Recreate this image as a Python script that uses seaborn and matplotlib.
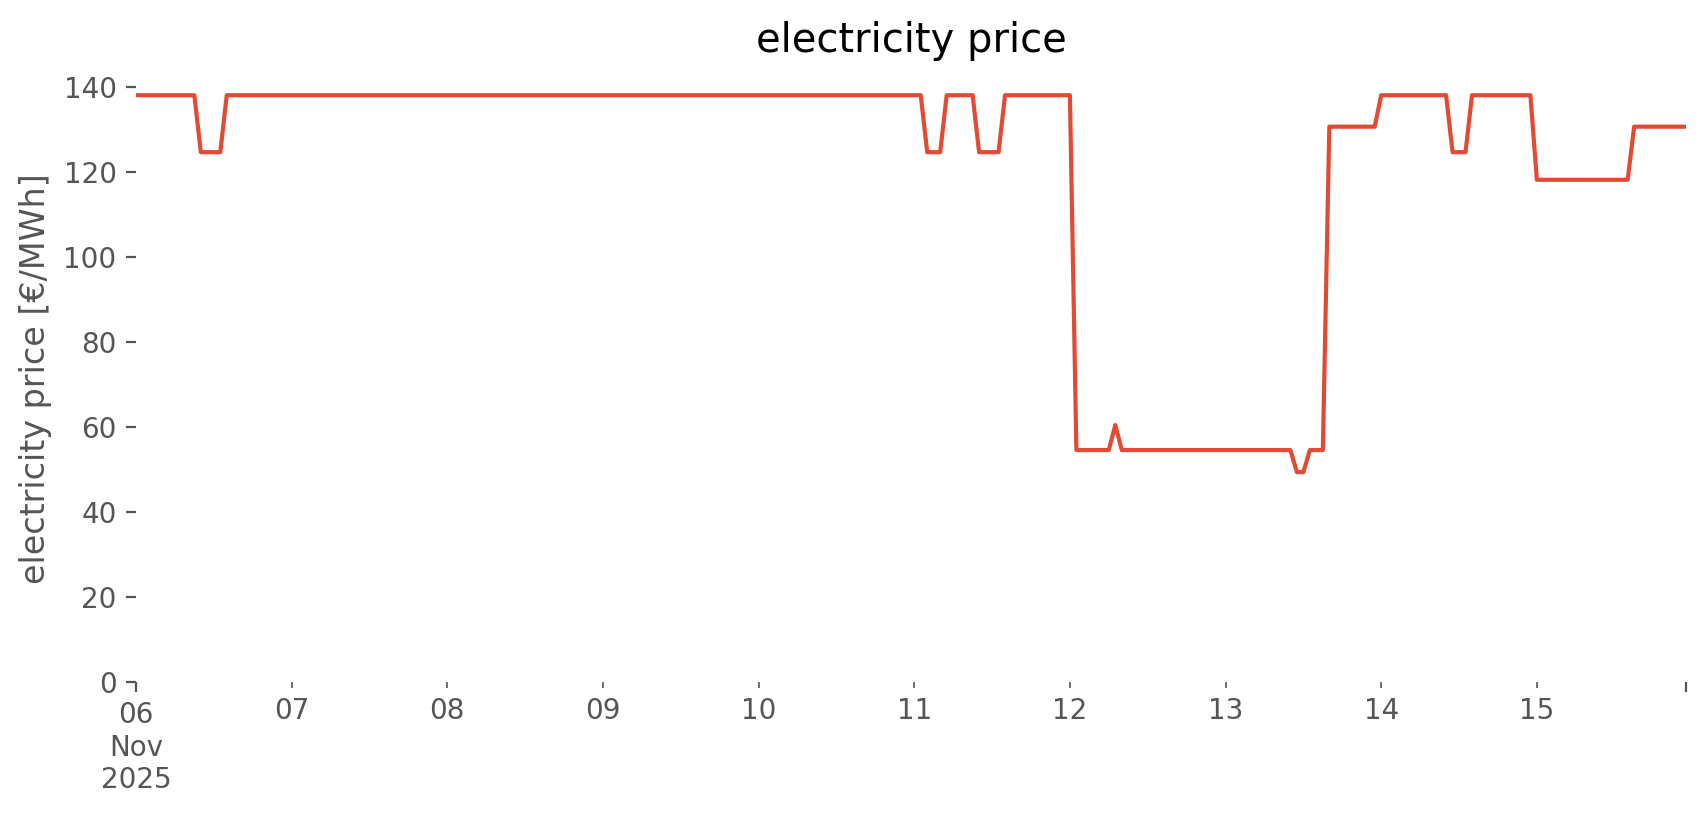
import numpy as np
import pandas as pd
import seaborn as sns
import matplotlib
matplotlib.use("Agg")
import matplotlib.pyplot as plt
import matplotlib.dates as mdates
from matplotlib.ticker import FixedLocator, FixedFormatter

# hourly price levels, as runs of (price, number of hours)
run_prices = [138.0, 124.6, 138.0, 124.6, 138.0, 124.6, 138.0, 54.5, 60.4,
              54.5, 49.3, 54.5, 130.6, 138.0, 124.6, 138.0, 118.1, 130.6]
run_hours = [10, 4, 108, 3, 5, 4, 11, 6, 1, 27, 2, 3, 8, 11, 3, 10, 15, 9]

start = "2025-11-06 00:00"
day_labels = ["06\nNov\n2025", "07", "08", "09", "10", "11", "12", "13", "14", "15"]
y_ticks = [0, 20, 40, 60, 80, 100, 120, 140]

price = np.repeat(run_prices, run_hours)
times = pd.date_range(start, periods=len(price), freq="h")
df = pd.DataFrame({"time": times, "price": price})

plt.style.use("ggplot")
plt.rcParams["axes.facecolor"] = "white"
plt.rcParams["axes.grid"] = False

fig = plt.figure(figsize=(8.53, 4.075), dpi=200)
ax = fig.add_axes([0.0797, 0.1636, 0.9086, 0.7425])

sns.lineplot(data=df, x="time", y="price", ax=ax, color="#E24A33", linewidth=1.5)

ax.set_xlim(times[0], times[-1])
ax.set_ylim(0, 142.4)
ax.set_yticks(y_ticks)

days = pd.date_range(start, periods=10, freq="D")
major_pos = [mdates.date2num(times[0]), mdates.date2num(times[-1])]
ax.xaxis.set_major_locator(FixedLocator(major_pos))
ax.xaxis.set_major_formatter(FixedFormatter([day_labels[0], ""]))
ax.xaxis.set_minor_locator(FixedLocator([mdates.date2num(d) for d in days[1:]]))
ax.xaxis.set_minor_formatter(FixedFormatter(day_labels[1:]))
ax.tick_params(axis="x", which="minor", labelsize=10, colors="#555555")

for s in ax.spines.values():
    s.set_visible(False)

ax.set_title("electricity price", pad=9)
ax.set_xlabel("")
ax.set_ylabel("electricity price [€/MWh]")

fig.savefig("out.png", dpi=200)
